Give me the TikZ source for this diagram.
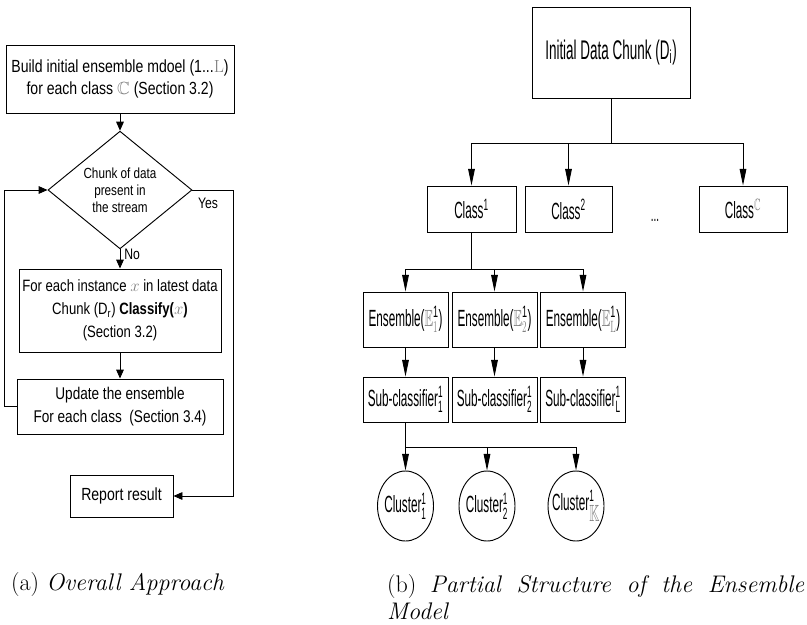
\documentclass[tikz,border=0pt]{standalone}
\usepackage{amsmath}
\usepackage{amssymb}
\usepackage{graphicx}
\usepackage{fontspec}
\newfontfamily\flowfont[FakeStretch=0.8]{Liberation Sans}
\newfontfamily\treefont[FakeStretch=0.5]{Liberation Sans}
\newfontfamily\plainsans{Liberation Sans}
\newcommand{\narrowmath}[1]{\scalebox{0.55}[1]{#1}}
\usetikzlibrary{shapes.geometric,arrows.meta}

\begin{document}
\begin{tikzpicture}[x=0.3mm,y=-0.3mm,
    flowbox/.style={draw,line width=0.8pt,align=center,inner sep=0pt,font=\flowfont\fontsize{15}{19.5}\selectfont},
    decision/.style={draw,diamond,line width=0.8pt,align=center,inner sep=0pt,minimum width=43.2mm,minimum height=28.5mm,font=\flowfont\fontsize{12.5}{14.5}\selectfont},
    flowlabel/.style={font=\flowfont\fontsize{13}{15}\selectfont},
    flowarrow/.style={-{Triangle[length=2.7mm,width=2.3mm]},line width=0.8pt},
    treebox/.style={draw,line width=0.8pt,align=center,inner sep=0pt,font=\treefont\fontsize{20}{24}\selectfont},
    treeclust/.style={draw,ellipse,line width=0.8pt,inner sep=0pt,minimum width=16.8mm,minimum height=21mm,font=\treefont\fontsize{20}{24}\selectfont},
    treeline/.style={line width=0.8pt},
    treearrow/.style={-{Triangle[length=5mm,width=2mm]},line width=0.8pt},
    caption/.style={font=\fontsize{20.5}{23}\selectfont}]
        % Define colors for math symbols
        \definecolor{mathgray}{gray}{0.5}

        % Fix the page size
        \useasboundingbox (0,0) rectangle (807,624);

        % (a) Overall approach
        \node[flowbox,minimum width=68.4mm,minimum height=20.4mm] (build) at (120,79) {Build initial ensemble mdoel (1...\textcolor{mathgray}{$\mathrm{L}$})\\for each class \textcolor{mathgray}{$\mathbb{C}$} (Section 3.2)};
        \node[decision] (chunk) at (120,190) {Chunk of data\\present in\\the stream};
        \node[flowbox,minimum width=60.6mm,minimum height=24.9mm,font=\flowfont\fontsize{14}{19.5}\selectfont] (classify) at (120,310.5) {For each instance \textcolor{mathgray}{$x$} in latest data\\Chunk (D\textsubscript{r}) \textbf{Classify(}\textcolor{mathgray}{$x$}\textbf{)}\\(Section 3.2)};
        \node[flowbox,minimum width=61.8mm,minimum height=16.5mm,font=\flowfont\fontsize{14.5}{19}\selectfont] (update) at (120,406.5) {Update the ensemble\\For each class\ \ (Section 3.4)};
        \node[flowbox,minimum width=30.9mm,minimum height=12.6mm] (report) at (121.5,496) {Report result};
        \node[flowlabel] (yes) at (208,203) {Yes};
        \coordinate (yesturn) at (233,190);

        % Arrows of (a)
        \draw[flowarrow] (build) -- (chunk);
        \draw[flowarrow] (chunk) -- node[flowlabel,pos=0.25,right] {No} (classify);
        \draw[flowarrow] (classify) -- (update);
        \draw[flowarrow] (update.west) -- ++(-12,0) |- (chunk.west); % loop back
        \draw[flowarrow] (chunk.east) -- (yesturn) |- (report.east);

        % (b) Ensemble model
        \node[treebox,minimum width=47.4mm,minimum height=27.3mm,font=\treefont\fontsize{23}{27}\selectfont] (init) at (611,52.5) {Initial Data Chunk (D\textsubscript{i})};
        \node[treebox,minimum width=26.7mm,minimum height=13.8mm] (class1) at (471.5,209) {Class\textsuperscript{1}};
        \node[treebox,minimum width=26.1mm,minimum height=13.8mm] (class2) at (568.5,209) {Class\textsuperscript{2}};
        \node[treebox,minimum width=26.4mm,minimum height=13.8mm] (classC) at (743,209) {Class\textsuperscript{\narrowmath{\textcolor{mathgray}{$\mathbb{C}$}}}};
        \node[font=\treefont\fontsize{17}{20}\selectfont] (dots) at (655,220) {...};

        \node[treebox,minimum width=25.5mm,minimum height=16.5mm] (ens1) at (405.5,319.5) {Ensemble(\narrowmath{$\textcolor{mathgray}{\mathbb{E}}^{\text{\plainsans 1}}_{\textcolor{mathgray}{\mathrm{1}}}$})};
        \node[treebox,minimum width=25.5mm,minimum height=16.5mm] (ens2) at (494.5,319.5) {Ensemble(\narrowmath{$\textcolor{mathgray}{\mathbb{E}}^{\text{\plainsans 1}}_{\textcolor{mathgray}{\mathrm{2}}}$})};
        \node[treebox,minimum width=25.5mm,minimum height=16.5mm] (ensL) at (583,319.5) {Ensemble(\narrowmath{$\textcolor{mathgray}{\mathbb{E}}^{\text{\plainsans 1}}_{\textcolor{mathgray}{\mathrm{L}}}$})};

        \node[treebox,minimum width=25.5mm,minimum height=13.5mm] (sub1) at (405.5,399.5) {Sub-classifier$^{\text{1}}_{\text{1}}$};
        \node[treebox,minimum width=25.5mm,minimum height=13.5mm] (sub2) at (494.5,399.5) {Sub-classifier$^{\text{1}}_{\text{2}}$};
        \node[treebox,minimum width=25.5mm,minimum height=13.5mm] (subL) at (583,399.5) {Sub-classifier$^{\text{1}}_{\text{L}}$};

        \node[treeclust] (clu1) at (405.5,506) {\makebox[10mm]{Cluster$^{\text{1}}_{\text{1}}$}};
        \node[treeclust] (clu2) at (487,506) {\makebox[10mm]{Cluster$^{\text{1}}_{\text{2}}$}};
        \node[treeclust] (cluK) at (576,506) {\makebox[10mm]{Cluster$^{\text{1}}_{\narrowmath{$\textcolor{mathgray}{\mathbb{K}}$}}$}};

        % Branch points
        \coordinate (bus1) at (611,143);
        \coordinate (bus2) at (471.5,269);
        \coordinate (bus3) at (405.5,447);

        % Arrows of (b)
        \draw[treeline] (init) -- (bus1);
        \draw[treearrow] (bus1) -| (class1);
        \draw[treearrow] (bus1) -| (class2);
        \draw[treearrow] (bus1) -| (classC);
        \draw[treeline] (class1) -- (bus2);
        \draw[treearrow] (bus2) -| (ens1);
        \draw[treearrow] (bus2) -| (ens2);
        \draw[treearrow] (bus2) -| (ensL);
        \draw[treearrow] (ens1) -- (sub1);
        \draw[treearrow] (ens2) -- (sub2);
        \draw[treearrow] (ensL) -- (subL);
        \draw[treeline] (sub1) -- (bus3);
        \draw[treearrow] (bus3) -- (clu1);
        \draw[treearrow] (bus3) -| (clu2);
        \draw[treearrow] (bus3) -| (cluK);

        % Captions
        \node[caption,anchor=base west] (capa) at (7,590) {(a)\ \textit{Overall Approach}};
        \node[caption,anchor=north west,text width=125.1mm,align=justify] (capb) at (383,570) {\hyphenpenalty=10000 (b)\ \textit{Partial Structure of the Ensemble Model}};
\end{tikzpicture}
\end{document}
